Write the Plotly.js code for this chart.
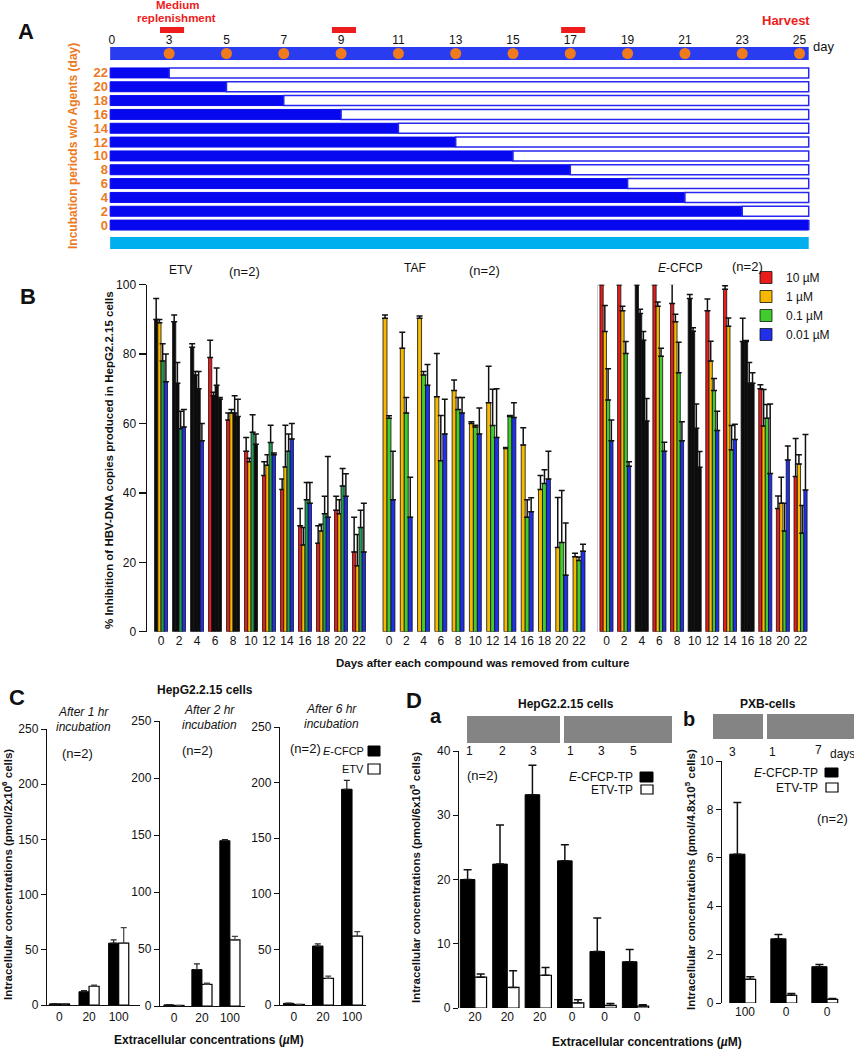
<!DOCTYPE html>
<html><head><meta charset="utf-8">
<script src="https://cdn.plot.ly/plotly-3.0.1.min.js"></script>
<style>html,body{margin:0;padding:0;background:#fff}#chart{width:854px;height:1050px}</style>
</head><body><div id="chart"></div>
<script>
// ================= DATA =================
// Panel A (schedule)
const timelineDays = [0,3,5,7,9,11,13,15,17,19,21,23,25];
const dotDays = [3,5,7,9,11,13,15,17,19,21,23,25];
const mediumDays = [3,9,17];
const incubationPeriods = [22,20,18,16,14,12,10,8,6,4,2,0];
const harvestDay = 25;

// Panel B (% inhibition)
const daysOff = [0,2,4,6,8,10,12,14,16,18,20,22];
const concLabels = ['10 µM','1 µM','0.1 µM','0.01 µM'];
const etv10    = [90,89.3,82,79,61,52,45,41,30.5,25.5,35,23];
const etv10Err = [6,2,1,5,2,4,4,3,5,5,4,10];
const etv1     = [89,71.6,74,68,63,49,48,47.5,25,29,34,19];
const etv1Err  = [1,6,1,1,1,1,3,12,5,2,4,9];
const etv01    = [78,58.5,70,71,63,57.5,54.5,52,38,34,42,30];
const etv01Err = [5,5,5,5,5,5,5,5,5,5,5,5];
const etv001   = [72,59,55,67,62,54,51,55.5,37,33,39,23];
const etv001Err= [8,5,5,0.5,5,3,0.5,4.5,6,17.5,6.5,14];

const taf1     = [90.3,81.7,90.3,67.7,69.5,60,66,52.8,53.8,41,24.3,21.6];
const taf1Err  = [1,4.6,0.7,12.5,3,0.5,10.5,0.3,5,4,14.4,1];
const taf01    = [61.5,63,74,49.3,64,59,59.4,62,33,42.7,25.7,20.5];
const taf01Err = [0.7,4.5,1,13,3.5,0.5,10.5,0.3,5,4,15,1];
const taf001   = [38,33,71,57,63,57,56,61.7,34.6,44,16.3,23.2];
const taf001Err= [14,11.5,6,10,4.5,7.5,14,4.3,4,8,15,2];

const ecf10    = [100,100,100,100,94.6,96,92.5,98.7,83.6,70,35.5,44.7];
const ecf10Err = [0,0,0,0,5.7,1.2,3.4,1,6.7,1.2,3.6,11];
const ecf1     = [86.5,92.5,91.7,93.8,89.3,86.6,78,88,83.6,59.3,37,48.3];
const ecf1Err  = [7.5,1.3,1.2,1.2,2.2,1,5.7,2.4,0.3,10.5,7.5,2.7];
const ecf01    = [66.8,80.2,84,79.4,74.6,58.6,69.5,52.4,71.6,61.5,29,28.4];
const ecf01Err = [9,3.4,2.5,2.3,8.8,7,3.5,7,6,4,8,8];
const ecf001   = [55,47.7,60.7,52,55,47.4,58,55.4,71.6,45.6,49.5,40.8];
const ecf001Err= [6,1.3,6.5,2.6,5.5,4.5,5.5,4.4,3,20,4,16];

// Panel C (HepG2.2.15, intracellular, 0/20/100 µM)
const cConc = ['0','20','100'];
const c1hEcfcp = [1,12,56],  c1hEcfcpErr = [0.3,1,3];
const c1hEtv   = [1,17,56],  c1hEtvErr   = [0.3,1,14];
const c2hEcfcp = [1,32,145], c2hEcfcpErr = [0.3,5,1];
const c2hEtv   = [0.5,19,58],c2hEtvErr   = [0,1,3];
const c6hEcfcp = [1.5,53,194], c6hEcfcpErr = [0.3,2,8];
const c6hEtv   = [0.5,24,62],  c6hEtvErr   = [0,2,4];

// Panel D
const daConc = ['20','20','20','0','0','0'];
const daEcfcp = [20,22.4,33.2,22.9,8.8,7.2], daEcfcpErr = [1.5,6.1,4.6,2.5,5.2,1.9];
const daEtv   = [4.8,3.2,5.1,0.8,0.4,0.3],   daEtvErr   = [0.5,2.6,1.2,0.5,0.3,0.2];
const dbConc = ['100','0','0'];
const dbEcfcp = [6.15,2.65,1.5], dbEcfcpErr = [2.13,0.18,0.09];
const dbEtv   = [0.98,0.32,0.15], dbEtvErr  = [0.1,0.07,0.04];

// ================= HELPERS / STYLE =================
const W = 854, H = 1050;
const X = px => px / W;
const Y = py => 1 - py / H;
const FONT = 'Liberation Sans, Arial, Helvetica, sans-serif';
const NARROW = 'Liberation Sans Narrow, Arial Narrow, Liberation Sans, sans-serif';
const idx = d => timelineDays.indexOf(d);
const lastIdx = timelineDays.length - 1;
const ROW_START = -0.03, ROW_END = lastIdx + 0.16;
const blueRow = '#0808f0', blueTl = '#2a3cf0', cyan = '#00b0ee', orange = '#f07a1e', red = '#ee1c1c', orangeTxt = '#ec7a22';

const traces = [];

// ---- Panel A
traces.push({type:'bar', orientation:'h', xaxis:'x', yaxis:'y', y:[0], base:[ROW_START], x:[ROW_END-ROW_START], width:[1],
  marker:{color:blueTl, line:{width:0}}, showlegend:false});
traces.push({type:'scatter', mode:'markers', xaxis:'x', yaxis:'y', x:dotDays.map(idx), y:dotDays.map(()=> 0),
  marker:{color:orange, size:11, line:{width:0}}, showlegend:false});

const rowCats = incubationPeriods.map(String);
const blueEnd = incubationPeriods.map(k => { const i = idx(harvestDay - k); return i === lastIdx ? ROW_END : i; });
traces.push({type:'bar', orientation:'h', xaxis:'x2', yaxis:'y2', y:rowCats, base:rowCats.map(()=>ROW_START),
  x:blueEnd.map(e => e - ROW_START), width:0.72, marker:{color:blueRow, line:{color:blueRow, width:1}}, showlegend:false});
traces.push({type:'bar', orientation:'h', xaxis:'x2', yaxis:'y2', y:rowCats, base:blueEnd,
  x:blueEnd.map(e => ROW_END - e), width:0.72, marker:{color:'#ffffff', line:{color:'#2727f0', width:1.5}}, showlegend:false});
traces.push({type:'bar', orientation:'h', xaxis:'x3', yaxis:'y3', y:[0], base:[ROW_START], x:[ROW_END-ROW_START], width:[1],
  marker:{color:cyan, line:{width:0}}, showlegend:false});
traces.push({type:'bar', orientation:'h', xaxis:'x4', yaxis:'y4', y:mediumDays.map(()=> 0), base:mediumDays.map(d => idx(d) - 0.16),
  x:mediumDays.map(()=>0.42), width:1, marker:{color:red, line:{width:0}}, showlegend:false});

// ---- Panel B
const seriesColors = ['#ea1b1b','#f7b900','#3fcc2c','#2030ea'];
const etvGreen = '#1f9b52';
const dark = '#0c0c0c';
const drugs = [
  {xa:'x5', ya:'y5', vals:[etv10,etv1,etv01,etv001], errs:[etv10Err,etv1Err,etv01Err,etv001Err], col:[0,1,2,3], w:0.36,
   dark:{0:[0],1:[0,1],2:[0,1,2],3:[1,2,3],4:[2,3],5:[3]}, green:etvGreen, legend:false},
  {xa:'x6', ya:'y5', vals:[taf1,taf01,taf001], errs:[taf1Err,taf01Err,taf001Err], col:[1,2,3], w:0.46, dark:{}, green:seriesColors[2], legend:false},
  {xa:'x7', ya:'y6', vals:[ecf10,ecf1,ecf01,ecf001], errs:[ecf10Err,ecf1Err,ecf01Err,ecf001Err], col:[0,1,2,3], w:0.37,
   dark:{2:[0,1,2,3],5:[0,1,2,3],8:[0,1,2,3]}, green:seriesColors[2], legend:true}
];
drugs.forEach(dr => {
  const n = dr.vals.length;
  dr.vals.forEach((v, j) => {
    const ci = dr.col[j];
    const base = ci === 2 ? dr.green : seriesColors[ci];
    const colors = v.map((_, g) => (dr.dark[g] && dr.dark[g].includes(j)) ? dark : base);
    traces.push({type:'bar', xaxis:dr.xa, yaxis:dr.ya, x:daysOff, y:v, width:dr.w, offset:(j - n/2)*dr.w,
      marker:{color:colors, line:{color:'#111', width:0.8}},
      error_y:{type:'data', symmetric:false, array:dr.errs[j], arrayminus:v.map(()=>0), color:'#111', thickness:1.5, width:3},
      name:concLabels[ci], showlegend:dr.legend, legendgroup:'c'+ci});
  });
});

// ---- Panel C
const cPanels = [
  {xa:'x8', ya:'y8', e:c1hEcfcp, ee:c1hEcfcpErr, t:c1hEtv, te:c1hEtvErr, w:0.34},
  {xa:'x9', ya:'y9', e:c2hEcfcp, ee:c2hEcfcpErr, t:c2hEtv, te:c2hEtvErr, w:0.36},
  {xa:'x10', ya:'y10', e:c6hEcfcp, ee:c6hEcfcpErr, t:c6hEtv, te:c6hEtvErr, w:0.36}
];
cPanels.forEach(p => {
  const xs = cConc.map((_, i) => i);
  traces.push({type:'bar', xaxis:p.xa, yaxis:p.ya, x:xs, y:p.e, width:p.w, offset:-p.w, marker:{color:'#000', line:{color:'#000', width:1}},
    error_y:{type:'data', symmetric:false, array:p.ee, arrayminus:p.e.map(()=>0), color:'#222', thickness:1.2, width:3},
    name:'E-CFCP', showlegend:false});
  traces.push({type:'bar', xaxis:p.xa, yaxis:p.ya, x:xs, y:p.t, width:p.w, offset:0, marker:{color:'#fff', line:{color:'#000', width:1.2}},
    error_y:{type:'data', symmetric:false, array:p.te, arrayminus:p.t.map(()=>0), color:'#444', thickness:1.2, width:3},
    name:'ETV', showlegend:false});
});

// ---- Panel D
const dPanels = [
  {xa:'x11', ya:'y11', cats:daConc, e:daEcfcp, ee:daEcfcpErr, t:daEtv, te:daEtvErr, wb:0.45, ww:0.36},
  {xa:'x12', ya:'y12', cats:dbConc, e:dbEcfcp, ee:dbEcfcpErr, t:dbEtv, te:dbEtvErr, wb:0.37, ww:0.26}
];
dPanels.forEach(p => {
  const xs = p.cats.map((_, i) => i);
  traces.push({type:'bar', xaxis:p.xa, yaxis:p.ya, x:xs, y:p.e, width:p.wb, offset:-p.wb, marker:{color:'#000', line:{color:'#000', width:1}},
    error_y:{type:'data', symmetric:false, array:p.ee, arrayminus:p.e.map(()=>0), color:'#111', thickness:1.5, width:4},
    name:'E-CFCP-TP', showlegend:false});
  traces.push({type:'bar', xaxis:p.xa, yaxis:p.ya, x:xs, y:p.t, width:p.ww, offset:0, marker:{color:'#fff', line:{color:'#000', width:1.2}},
    error_y:{type:'data', symmetric:false, array:p.te, arrayminus:p.t.map(()=>0), color:'#111', thickness:1.5, width:4},
    name:'ETV-TP', showlegend:false});
});

// ================= LAYOUT =================
const noGrid = {showgrid:false, zeroline:false, fixedrange:true};
const hidden = {showticklabels:false, showline:false, ticks:'', showgrid:false, zeroline:false, fixedrange:true};
const tickF = {family:FONT, size:12, color:'#111'};
const layout = {
  width:W, height:H, margin:{l:0,r:0,t:0,b:0}, paper_bgcolor:'#fff', plot_bgcolor:'rgba(0,0,0,0)',
  barmode:'overlay', hovermode:false, font:{family:FONT, size:12, color:'#111'},
  // Panel A
  xaxis:Object.assign({domain:[X(109),X(811)], range:[-0.05,12.2], anchor:'y', side:'top', tickmode:'array',
    tickvals:timelineDays.map((d,i)=>i), ticktext:timelineDays.map(String), ticks:'', showline:false,
    tickfont:{family:NARROW, size:12, color:'#111'}}, noGrid),
  yaxis:Object.assign({domain:[Y(60),Y(47)], anchor:'x', range:[-0.5,0.5]}, hidden),
  xaxis2:Object.assign({matches:'x', domain:[X(109),X(811)], anchor:'y2'}, hidden),
  yaxis2:Object.assign({domain:[Y(232),Y(66)], anchor:'x2', type:'category', categoryorder:'array',
    categoryarray:rowCats.slice().reverse(), tickmode:'array', tickvals:rowCats, ticktext:rowCats, ticks:'', showline:false,
    tickfont:{family:NARROW, size:13, color:orangeTxt, weight:'bold'}}, noGrid),
  xaxis3:Object.assign({matches:'x', domain:[X(109),X(811)], anchor:'y3'}, hidden),
  yaxis3:Object.assign({domain:[Y(249),Y(237)], anchor:'x3', range:[-0.5,0.5]}, hidden),
  xaxis4:Object.assign({matches:'x', domain:[X(109),X(811)], anchor:'y4'}, hidden),
  yaxis4:Object.assign({domain:[Y(33),Y(27)], anchor:'x4', range:[-0.5,0.5]}, hidden),
  // Panel B
  xaxis5:Object.assign({domain:[X(147),X(368)], range:[-1.56,23], anchor:'y5', tickmode:'array', tickvals:daysOff,
    ticktext:daysOff.map(String), ticks:'', showline:false, tickfont:tickF}, noGrid),
  yaxis5:Object.assign({domain:[Y(631.7),Y(284.7)], range:[0,100], anchor:'x5', tickvals:[0,20,40,60,80,100],
    ticks:'outside', ticklen:7, tickwidth:1.5, tickcolor:'#111', showline:true, linewidth:1.5, linecolor:'#111', tickfont:tickF}, noGrid),
  xaxis6:Object.assign({domain:[X(380),X(588)], range:[-1.04,23.04], anchor:'y5', tickmode:'array', tickvals:daysOff,
    ticktext:daysOff.map(String), ticks:'', showline:false, tickfont:tickF}, noGrid),
  xaxis7:Object.assign({domain:[X(598),X(810)], range:[-0.96,23.07], anchor:'y6', tickmode:'array', tickvals:daysOff,
    ticktext:daysOff.map(String), ticks:'', showline:false, tickfont:tickF}, noGrid),
  yaxis6:Object.assign({matches:'y5', domain:[Y(631.7),Y(284.7)], anchor:'x7', showline:true, linecolor:'#cfcfcf', linewidth:1,
    ticks:'', showticklabels:false}, noGrid),
  // Panel C
  xaxis8:Object.assign({domain:[X(47),X(140)], range:[-0.42,2.72], anchor:'y8', tickmode:'array', tickvals:[0,1,2], ticktext:cConc,
    ticks:'', showline:true, linecolor:'#111', linewidth:1.2, tickfont:tickF}, noGrid),
  yaxis8:Object.assign({domain:[Y(1005),Y(729)], range:[0,250], dtick:50, anchor:'x8', ticks:'outside', ticklen:5, tickcolor:'#111',
    showline:true, linecolor:'#111', linewidth:1.2, tickfont:tickF}, noGrid),
  xaxis9:Object.assign({domain:[X(160),X(245)], range:[-0.5,2.54], anchor:'y9', tickmode:'array', tickvals:[0,1,2], ticktext:cConc,
    ticks:'', showline:true, linecolor:'#111', linewidth:1.2, tickfont:tickF}, noGrid),
  yaxis9:Object.assign({domain:[Y(1006),Y(721)], range:[0,250], dtick:50, anchor:'x9', ticks:'outside', ticklen:5, tickcolor:'#111',
    showline:true, linecolor:'#111', linewidth:1.2, tickfont:tickF}, noGrid),
  xaxis10:Object.assign({domain:[X(280),X(366)], range:[-0.48,2.48], anchor:'y10', tickmode:'array', tickvals:[0,1,2], ticktext:cConc,
    ticks:'', showline:true, linecolor:'#111', linewidth:1.2, tickfont:tickF}, noGrid),
  yaxis10:Object.assign({domain:[Y(1005),Y(727)], range:[0,250], dtick:50, anchor:'x10', ticks:'outside', ticklen:5, tickcolor:'#111',
    showline:true, linecolor:'#111', linewidth:1.2, tickfont:tickF}, noGrid),
  // Panel D
  xaxis11:Object.assign({domain:[X(459),X(660)], range:[-0.49,5.71], anchor:'y11', tickmode:'array', tickvals:daConc.map((_,i)=>i),
    ticktext:daConc, ticks:'', showline:false, tickfont:tickF}, noGrid),
  yaxis11:Object.assign({domain:[Y(1008),Y(751)], range:[0,40], dtick:10, anchor:'x11', ticks:'outside', ticklen:5, tickcolor:'#111',
    showline:true, linecolor:'#111', linewidth:1.2, tickfont:tickF}, noGrid),
  xaxis12:Object.assign({domain:[X(722),X(850)], range:[-0.56,2.56], anchor:'y12', tickmode:'array', tickvals:dbConc.map((_,i)=>i),
    ticktext:dbConc, ticks:'', showline:false, tickfont:tickF}, noGrid),
  yaxis12:Object.assign({domain:[Y(1003),Y(761)], range:[0,10], dtick:2, anchor:'x12', ticks:'outside', ticklen:5, tickcolor:'#111',
    showline:true, linecolor:'#111', linewidth:1.2, tickfont:tickF}, noGrid),
  // Legend (panel B)
  legend:{x:X(746), y:Y(263), xanchor:'left', yanchor:'top', bgcolor:'rgba(0,0,0,0)', font:{family:FONT, size:12}, tracegroupgap:0, traceorder:'normal'}
};

const ann = (text, px, py, o={}) => {
  const a = {text, x:X(px), y:Y(py), xref:'paper', yref:'paper', showarrow:false, xanchor:'center', yanchor:'middle'};
  Object.assign(a, o);
  a.font = Object.assign({family:FONT, size:12, color:'#111'}, o.font || {});
  return a;
};
const bold = (size, color) => ({size, color:color||'#111', weight:'bold'});
layout.annotations = [
  // A
  ann('A', 26, 32, {font:bold(22)}),
  ann('Medium', 177, 5, {font:{family:NARROW, size:11.5, color:red, weight:'bold'}}),
  ann('replenishment', 176, 18, {font:{family:NARROW, size:11.5, color:red, weight:'bold'}}),
  ann('Harvest', 786, 20, {font:{family:NARROW, size:13, color:red, weight:'bold'}}),
  ann('day', 823, 46, {font:{family:NARROW, size:13}}),
  ann('Incubation periods w/o Agents (day)', 73, 146, {textangle:-90, font:{family:FONT, size:12, color:orangeTxt, weight:'bold'}}),
  // B
  ann('B', 28, 296, {font:bold(22)}),
  ann('ETV', 180, 270), ann('(n=2)', 244, 272, {font:{size:13}}),
  ann('TAF', 415, 268), ann('(n=2)', 485, 270, {font:{size:13}}),
  ann('<i>E</i>-CFCP', 680, 268), ann('(n=2)', 747, 267, {font:{size:13}}),
  ann('% Inhibition of HBV-DNA copies produced in HepG2.2.15 cells', 109, 460, {textangle:-90, font:bold(11.5)}),
  ann('Days after each compound was removed from culture', 483, 663, {font:bold(11.5)}),
  // C
  ann('C', 17, 697, {font:bold(22)}),
  ann('HepG2.2.15 cells', 205, 690, {font:bold(12)}),
  ann('<i>After 1 hr</i>', 83, 712), ann('<i>incubation</i>', 83, 727),
  ann('<i>After 2 hr</i>', 209, 710), ann('<i>incubation</i>', 209, 725),
  ann('<i>After 6 hr</i>', 331, 709), ann('<i>incubation</i>', 331, 724),
  ann('(n=2)', 77, 753, {font:{size:13}}), ann('(n=2)', 197, 750, {font:{size:13}}), ann('(n=2)', 305, 748, {font:{size:13}}),
  ann('<i>E</i>-CFCP', 366, 751, {xanchor:'right', font:{size:11}}), ann('ETV', 366, 769, {xanchor:'right', font:{size:11}}),
  ann('Extracellular concentrations (<i>µ</i>M)', 209, 1040, {font:bold(12)}),
  ann('Intracellular concentrations (pmol/2x10<sup>6</sup> cells)', 7, 875, {textangle:-90, font:bold(11.5)}),
  // D
  ann('D', 414, 700, {font:bold(22)}),
  ann('a', 436, 716, {font:bold(20)}),
  ann('HepG2.2.15 cells', 566, 704, {font:bold(12)}),
  ann('1', 469, 751), ann('2', 502, 751), ann('3', 533, 751), ann('1', 570, 751), ann('3', 601, 751), ann('5', 633, 751),
  ann('b', 689, 719, {font:bold(20)}),
  ann('PXB-cells', 768, 704, {font:bold(12)}),
  ann('3', 732, 752), ann('1', 772, 752), ann('7', 818, 750), ann('days', 842, 754),
  ann('(n=2)', 483, 775, {font:{size:13}}), ann('(n=2)', 832, 818, {font:{size:13}}),
  ann('<i>E</i>-CFCP-TP', 635, 777, {xanchor:'right'}), ann('ETV-TP', 635, 790, {xanchor:'right'}),
  ann('<i>E</i>-CFCP-TP', 820, 773, {xanchor:'right'}), ann('ETV-TP', 820, 788, {xanchor:'right'}),
  ann('Extracellular concentrations (<i>µ</i>M)', 647, 1042, {font:bold(12)}),
  ann('Intracellular concentrations (pmol/6x10<sup>5</sup> cells)', 415, 878, {textangle:-90, font:bold(11.5)}),
  ann('Intracellular concentrations (pmol/4.8x10<sup>5</sup> cells)', 690, 880, {textangle:-90, font:bold(11.5)})
];
const rect = (x0, y0, x1, y1, fill, lw) => ({type:'rect', xref:'paper', yref:'paper', x0:X(x0), x1:X(x1), y0:Y(y1), y1:Y(y0),
  fillcolor:fill, line:{width:lw||0, color:'#000'}, layer:'above'});
layout.shapes = [
  // exposure-period boxes (panel D)
  rect(467,716,560,743,'#848484'), rect(564,716,672,743,'#848484'), rect(713,714,763,739,'#848484'), rect(767,714,854,739,'#848484'),
  // legend keys (panels C, D)
  rect(368,746,380,756,'#000',1), rect(368,764,380,774,'#fff',1.2),
  rect(640,772,653,782,'#000',1), rect(641,785,653,794,'#fff',1.2),
  rect(825,768,838,777,'#000',1), rect(826,783,838,792,'#fff',1.2)
];

Plotly.newPlot('chart', traces, layout, {staticPlot:true, displayModeBar:false});
</script>
</body></html>
